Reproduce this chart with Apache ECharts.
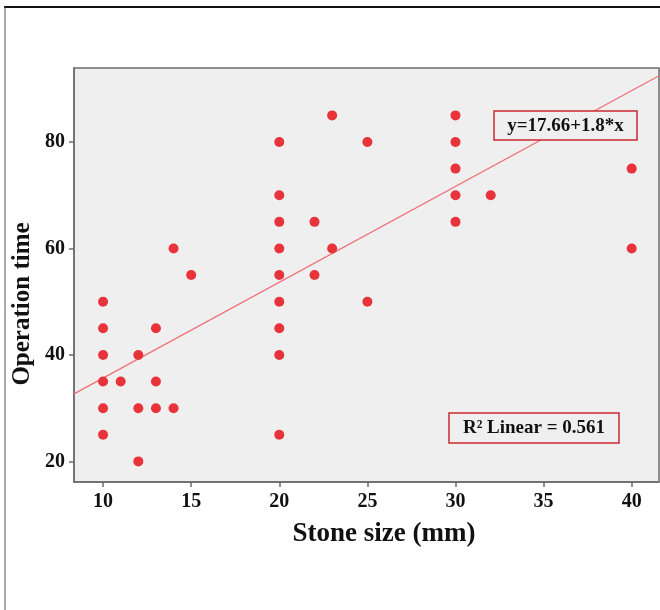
<!DOCTYPE html>
<html><head><meta charset="utf-8">
<script src="https://cdn.jsdelivr.net/npm/echarts@6/dist/echarts.min.js"></script>
<style>html,body{margin:0;padding:0;background:#fff}#c{width:660px;height:610px}</style>
</head><body><div id="c"></div>
<script>
// Data
const stoneSize = [10,10,10,10,10,10,11,12,12,12,13,13,13,14,14,15,20,20,20,20,20,20,20,20,20,22,22,23,23,25,25,30,30,30,30,30,32,40,40];
const operationTime = [50,45,40,35,30,25,35,40,30,20,45,35,30,60,30,55,80,70,65,60,55,50,45,40,25,65,55,85,60,80,50,85,80,75,70,65,70,75,60];
const xTicks = [10,15,20,25,30,35,40];
const yTicks = [20,40,60,80];
const fitIntercept = 17.66;
const fitSlope = 1.8;
const xRange = [8.35, 41.55];
const yRange = [16.13, 93.9];
const xTitle = 'Stone size (mm)';
const yTitle = 'Operation time';
const eqText = 'y=17.66+1.8*x';
const r2Text = 'R² Linear = 0.561';

const serif = '"Liberation Serif", "Times New Roman", serif';
const points = stoneSize.map((x, i) => [x, operationTime[i]]);
const fitLine = xRange.map(x => [x, fitIntercept + fitSlope * x]);

const chart = echarts.init(document.getElementById('c'), null, {renderer: 'canvas'});
chart.setOption({
  animation: false,
  backgroundColor: '#ffffff',
  grid: {
    left: 74, top: 68, width: 585, height: 414,
    show: true, backgroundColor: '#efefef', borderColor: '#6b6b6b', borderWidth: 1.5,
    outerBoundsMode: 'none'
  },
  xAxis: {
    type: 'value', min: xRange[0], max: xRange[1],
    axisLine: {show: true, onZero: false, lineStyle: {color: '#6b6b6b', width: 1.5}},
    axisTick: {show: true, customValues: xTicks, length: 5, lineStyle: {color: '#6b6b6b', width: 1.5}},
    axisLabel: {customValues: xTicks, fontFamily: serif, fontWeight: 'bold', fontSize: 20, color: '#111', margin: 10},
    splitLine: {show: false}
  },
  yAxis: {
    type: 'value', min: yRange[0], max: yRange[1],
    axisLine: {show: true, onZero: false, lineStyle: {color: '#6b6b6b', width: 1.5}},
    axisTick: {show: true, customValues: yTicks, length: 5, lineStyle: {color: '#6b6b6b', width: 1.5}},
    axisLabel: {customValues: yTicks, fontFamily: serif, fontWeight: 'bold', fontSize: 20, color: '#111', margin: 9},
    splitLine: {show: false}
  },
  series: [
    {
      type: 'line', data: fitLine, symbol: 'none', silent: true, z: 2,
      lineStyle: {color: '#f07078', width: 1.3}
    },
    {
      type: 'scatter', data: points, symbol: 'circle', symbolSize: 10, z: 3,
      itemStyle: {color: '#e8333b', opacity: 1}
    }
  ],
  graphic: [
    {type: 'line', shape: {x1: 4, y1: 7, x2: 660, y2: 7}, style: {stroke: '#111', lineWidth: 2}},
    {type: 'line', shape: {x1: 5, y1: 7, x2: 5, y2: 610}, style: {stroke: '#555', lineWidth: 1}},
    {type: 'text', x: 384, y: 534, style: {text: xTitle, font: 'bold 27px ' + serif, fill: '#111', align: 'center', verticalAlign: 'middle'}},
    {type: 'text', x: 23, y: 304, rotation: Math.PI / 2, style: {text: yTitle, font: 'bold 25px ' + serif, fill: '#111', align: 'center', verticalAlign: 'middle'}},
    {type: 'rect', shape: {x: 494, y: 111, width: 143, height: 29}, style: {fill: '#efefef', stroke: '#cc2a33', lineWidth: 1.5}, z: 10},
    {type: 'text', x: 565.5, y: 126, style: {text: eqText, font: 'bold 19px ' + serif, fill: '#111', align: 'center', verticalAlign: 'middle'}, z: 11},
    {type: 'rect', shape: {x: 449, y: 413, width: 170, height: 30}, style: {fill: '#efefef', stroke: '#cc2a33', lineWidth: 1.5}, z: 10},
    {type: 'text', x: 534, y: 428.5, style: {text: r2Text, font: 'bold 19px ' + serif, fill: '#111', align: 'center', verticalAlign: 'middle'}, z: 11}
  ]
});
</script>
</body></html>
